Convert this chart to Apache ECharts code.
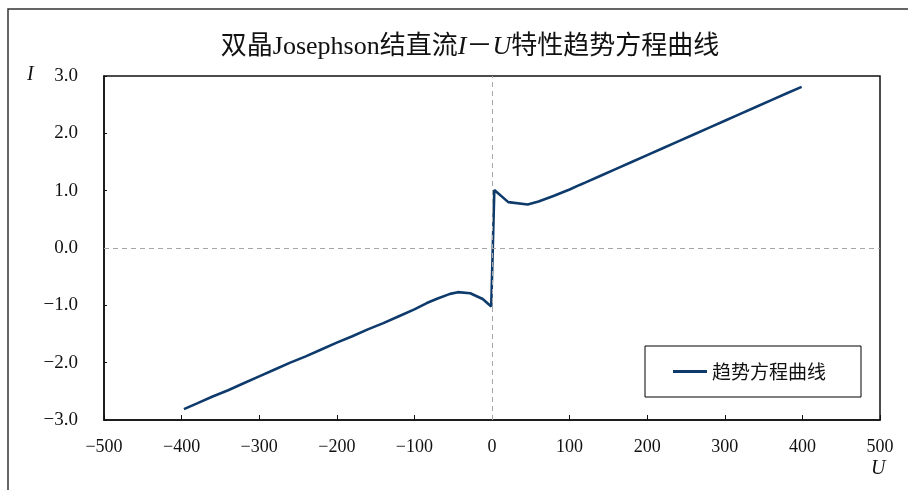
<!DOCTYPE html>
<html>
<head>
<meta charset="utf-8">
<script src="https://cdn.jsdelivr.net/npm/echarts@6/dist/echarts.min.js"></script>
<style>
  html, body { margin: 0; padding: 0; background: #fff; }
  #chart { width: 908px; height: 490px; }
</style>
</head>
<body>
<div id="chart"></div>
<script>
// U (voltage) and I (current)
const voltage = [-397, -380, -360, -340, -320, -300, -280, -260, -240, -220,
  -200, -180, -160, -140, -120, -100, -84, -70, -54, -44, -28, -12, -1,
  3, 21, 46, 60, 80, 100, 113, 120, 140, 160, 180, 200, 220, 240, 260,
  280, 300, 320, 340, 360, 380, 399]
const current = [-2.81, -2.71, -2.59, -2.48, -2.36, -2.24, -2.12, -2.00, -1.89, -1.77,
  -1.65, -1.54, -1.42, -1.31, -1.19, -1.07, -0.96, -0.88, -0.80, -0.77, -0.79, -0.89, -1.02,
  1.01, 0.80, 0.76, 0.81, 0.91, 1.02, 1.10, 1.14, 1.26, 1.38, 1.50, 1.62, 1.74, 1.86, 1.98,
  2.10, 2.22, 2.34, 2.46, 2.58, 2.70, 2.81]

const seriesName = '趋势方程曲线'
const serif = "'Liberation Serif', 'Noto Sans CJK SC', serif"
const lineColor = '#0e3b6c'

const minus = v => String(v).replace('-', '−')

const chart = echarts.init(document.getElementById('chart'))

chart.setOption({
  animation: false,
  title: {
    text: '双晶Josephson结直流{i|I}－{i|U}特性趋势方程曲线',
    left: 465,
    textAlign: 'center',
    top: 29,
    textStyle: {
      fontFamily: serif,
      fontSize: 26,
      fontWeight: 'normal',
      color: '#111',
      rich: {
        i: { fontFamily: serif, fontSize: 26, fontStyle: 'italic', color: '#111' }
      }
    }
  },
  legend: {
    data: [seriesName],
    left: 645,
    top: 346,
    orient: 'vertical',
    padding: [16, 35, 16, 28],
    borderColor: '#000',
    borderWidth: 1,
    itemWidth: 34,
    itemHeight: 3,
    icon: 'rect',
    textStyle: {
      fontFamily: "'Noto Sans CJK SC', sans-serif",
      fontSize: 19,
      color: '#111'
    }
  },
  graphic: [
    {
      type: 'rect',
      shape: { x: 8, y: 9, width: 1000, height: 1000 },
      style: { fill: 'none', stroke: '#333', lineWidth: 1.5 },
      silent: true
    },
    {
      type: 'text',
      left: 27,
      top: 65,
      style: { text: 'I', font: 'italic 20px ' + serif, fill: '#111' }
    },
    {
      type: 'text',
      left: 871,
      top: 459,
      style: { text: 'U', font: 'italic 20px ' + serif, fill: '#111' }
    }
  ],
  grid: {
    left: 104,
    right: 28,
    top: 76,
    bottom: 70,
    show: true,
    borderColor: '#111',
    borderWidth: 1.5,
    backgroundColor: '#fff'
  },
  xAxis: {
    type: 'value',
    min: -500,
    max: 500,
    interval: 100,
    axisLine: { onZero: false, lineStyle: { color: '#111', width: 1.5 } },
    axisTick: { inside: true, length: 5, lineStyle: { color: '#111' } },
    splitLine: { show: false },
    axisLabel: {
      margin: 18,
      fontFamily: serif,
      fontSize: 18,
      color: '#111',
      formatter: v => minus(v)
    }
  },
  yAxis: {
    type: 'value',
    min: -3,
    max: 3,
    interval: 1,
    axisLine: { onZero: false, lineStyle: { color: '#111', width: 1.5 } },
    axisTick: { inside: true, length: 3, lineStyle: { color: '#111' } },
    splitLine: { show: false },
    axisLabel: {
      margin: 26,
      fontFamily: serif,
      fontSize: 19,
      color: '#111',
      formatter: v => minus(v.toFixed(1))
    }
  },
  series: [
    {
      name: seriesName,
      type: 'line',
      data: voltage.map((u, i) => [u, current[i]]),
      showSymbol: false,
      symbol: 'none',
      lineStyle: { color: lineColor, width: 2.6 },
      itemStyle: { color: lineColor },
      markLine: {
        silent: true,
        symbol: 'none',
        label: { show: false },
        lineStyle: { color: '#a6a6a6', type: [5, 4], width: 1 },
        data: [{ xAxis: 0 }, { yAxis: 0 }]
      },
      z: 3
    }
  ]
})
</script>
</body>
</html>
